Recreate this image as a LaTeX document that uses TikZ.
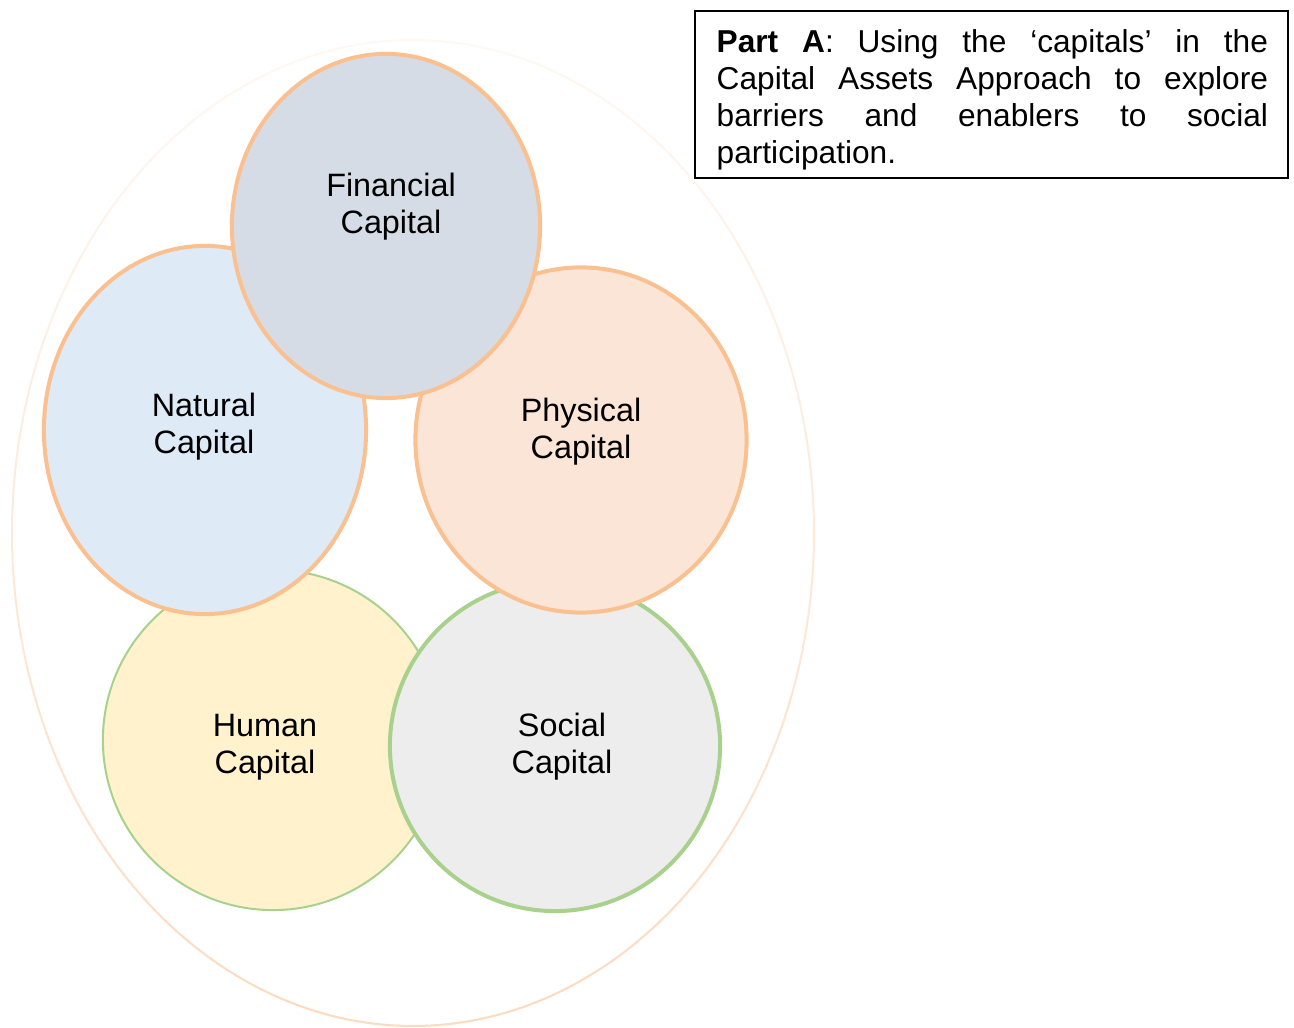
\documentclass[tikz,border=0pt]{standalone}
\usepackage{fontspec}
\setmainfont{Liberation Sans}
\usetikzlibrary{shapes.geometric}
\definecolor{capor}{HTML}{FAC090}
\definecolor{capgr}{HTML}{A9D18E}
\definecolor{finfill}{HTML}{D6DCE5}
\definecolor{natfill}{HTML}{DEEBF7}
\definecolor{phyfill}{HTML}{FBE5D6}
\definecolor{humfill}{HTML}{FFF2CC}
\definecolor{socfill}{HTML}{EDEDED}
\tikzset{
  capblob/.style={ellipse, inner sep=0pt, line width=0.04cm},
  orblob/.style={capblob, draw=capor},
  grblob/.style={capblob, draw=capgr},
  caplabel/.style={align=center, font=\fontsize{9.2pt}{10.53pt}\selectfont, inner sep=0pt},
}
\begin{document}
\begin{tikzpicture}[x=0.01cm, y=-0.01cm]
\useasboundingbox (0,0) rectangle (1294,1028);
% outer ellipse with fading stroke
\foreach \a in {0,4,...,356} {
  \pgfmathsetmacro{\p}{34+24*sin(\a+2)}
  \draw[capor!\p!white, line width=0.02cm] (413,533) ++(\a:401 and 493)
     arc[start angle=\a, end angle=\a+4.3, x radius=401, y radius=493];
}
% capitals
\node[capblob, draw=capgr, line width=0.02cm, fill=humfill, minimum width=3.40cm, minimum height=3.40cm] (human) at (273,740) {};
\node[grblob, fill=socfill, minimum width=3.30cm, minimum height=3.30cm] (social) at (555,746) {};
\node[orblob, fill=phyfill, minimum width=3.31cm, minimum height=3.45cm] (physical) at (581,440) {};
\node[orblob, fill=natfill, minimum width=3.22cm, minimum height=3.68cm] (natural) at (205,430) {};
\node[orblob, fill=finfill, minimum width=3.08cm, minimum height=3.44cm] (financial) at (386,226) {};
% labels
\node[caplabel] (finl) at (391,207) {Financial\\Capital};
\node[caplabel] (natl) at (204,427) {Natural\\Capital};
\node[caplabel] (phyl) at (581,432) {Physical\\Capital};
\node[caplabel] (huml) at (265,747) {Human\\Capital};
\node[caplabel] (socl) at (562,747) {Social\\Capital};
% text box
\node[draw=black, line width=0.02cm, minimum width=5.93cm, minimum height=1.67cm, inner sep=0pt] (box) at (991.5,94.5) {};
\node[anchor=north west, inner sep=0pt, text width=5.51cm, align=justify,
      font=\fontsize{9pt}{10.53pt}\selectfont] (boxtext) at (716,29)
  {\hbadness=10000\textbf{Part A}: Using the ‘capitals’ in the\linebreak
   Capital Assets Approach to explore\linebreak
   barriers and enablers to social\linebreak
   participation.};
\end{tikzpicture}
\end{document}
